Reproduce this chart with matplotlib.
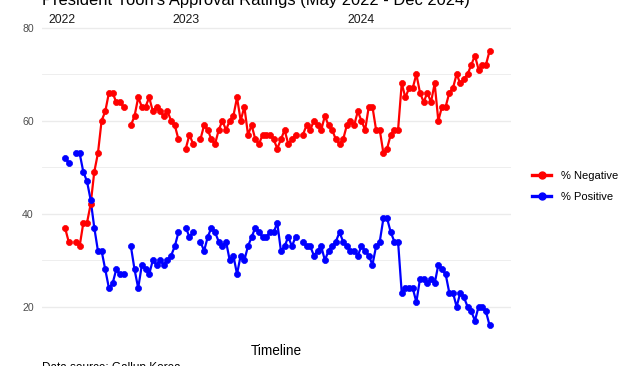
import numpy as np
import matplotlib
matplotlib.use("Agg")
import matplotlib.pyplot as plt
from matplotlib.lines import Line2D

nan = np.nan

# --- Data (weekly poll index, NaN = no poll that week) ---
negative = [37, 34, nan, 34, 33, 38, 38, 42, 49, 53, 60, 62, 66, 66, 64, 64, 63, nan,
            59, 61, 65, 63, 63, 65, 62, 63, 62,
            61, 62, 60, 59, 56, nan, 54, 57, 55, nan, 56, 59, 58, 56, 55, 58, 60, 58,
            60, 61, 65, 60, 63, 57, 59, 56, 55, 57,
            57, 57, 56, 54, 56, 58, 55, 56, 57, nan, 57, 59, 58, 60, 59, 58, 61, 59,
            58, 56, 55, 56, 59, 60, 59, 62, 60, 58,
            63, 63, 58, 58, 53, 54, 57, 58, 58, 68, 65, 67, 67, 70, 66, 64, 66, 64,
            68, 60, 63, 63, 66, 67, 70, 68, 69,
            70, 72, 74, 71, 72, 72, 75]
positive = [52, 51, nan, 53, 53, 49, 47, 43, 37, 32, 32, 28, 24, 25, 28, 27, 27, nan,
            33, 28, 24, 29, 28, 27, 30, 29, 30,
            29, 30, 31, 33, 36, nan, 37, 35, 36, nan, 34, 32, 35, 37, 36, 34, 33, 34,
            30, 31, 27, 31, 30, 33, 35, 37, 36, 35,
            35, 36, 36, 38, 32, 33, 35, 33, 35, nan, 34, 33, 33, 31, 32, 33, 30, 32,
            33, 34, 36, 34, 33, 32, 32, 31, 33, 32,
            31, 29, 33, 34, 39, 39, 36, 34, 34, 23, 24, 24, 24, 21, 26, 26, 25, 26,
            25, 29, 28, 27, 23, 23, 20, 23, 22,
            20, 19, 17, 20, 20, 19, 16]
series_labels = ["% Negative", "% Positive"]
series_colors = ["#FF0000", "#0000FF"]
year_labels = ["2022", "2023", "2024"]
year_positions = [-0.7, 33.1, 81.0]
y_ticks = [20, 40, 60, 80]
y_minor = [30, 50, 70]

title = "President Yoon's Approval Ratings (May 2022 - Dec 2024)"
xlabel = "Timeline"
caption = "Data source: Gallup Korea"

plt.rcParams['font.family'] = ['Liberation Sans', 'DejaVu Sans']

W, H = 630, 366
fig = plt.figure(figsize=(W / 100, H / 100), dpi=100)
fig.patch.set_facecolor("white")

# axes placed in pixel coordinates
left_px, right_px, top_px, bot_px = 42, 511, 10, 330
ax = fig.add_axes([left_px / W, 1 - bot_px / H, (right_px - left_px) / W, (bot_px - top_px) / H])

x = np.arange(len(negative))
neg = np.array(negative, dtype=float)
pos = np.array(positive, dtype=float)

px_per_unit = (306.7 - 27.7) / 60.0
y_top = 80 + (27.7 - top_px) / px_per_unit
y_bot = 80 - (bot_px - 27.7) / px_per_unit
px_per_slot = 3.66
x_left = (left_px - 65) / px_per_slot
x_right = (right_px - 65) / px_per_slot
ax.set_xlim(x_left, x_right)
ax.set_ylim(y_bot, y_top)

for v in y_ticks:
    ax.axhline(v, color="#EBEBEB", lw=1.0, zorder=0)
for v in y_minor:
    ax.axhline(v, color="#EBEBEB", lw=0.6, zorder=0)

lw = 1.6
ms = 4.4
for vals, c in zip([neg, pos], series_colors):
    ax.plot(x, vals, color=c, lw=lw, zorder=2, solid_capstyle="butt")
for vals, c in zip([neg, pos], series_colors):
    ax.plot(x, vals, linestyle="none", marker="o", ms=ms, color=c, mec=c, mew=0.5, zorder=3)

ax.set_yticks(y_ticks)
ax.set_yticklabels([str(v) for v in y_ticks])
ax.tick_params(axis="y", length=0, pad=6, labelsize=7.6, labelcolor="#4D4D4D")
ax.set_xticks([])
for s in ax.spines.values():
    s.set_visible(False)

year_y = 80 + (27.7 - 20.0) / px_per_unit
for lab, xp in zip(year_labels, year_positions):
    ax.text(xp, year_y, lab, ha="center", va="center", fontsize=8.8, color="#1A1A1A")

fig.text(left_px / W, 1 - 4.5 / H, title, ha="left", va="baseline", fontsize=11.9, color="black")
fig.text(276 / W, 1 - 351 / H, xlabel, ha="center", va="center", fontsize=9.8, color="black")
fig.text(left_px / W, 1 - 362 / H, caption, ha="left", va="top", fontsize=8.5, color="black")

handles = [Line2D([0], [0], color=c, lw=lw * 1.5, marker="o", ms=ms + 0.6) for c in series_colors]
leg = fig.legend(handles, series_labels, loc="center left",
                 bbox_to_anchor=(532 / W, 1 - 186.7 / H), frameon=False,
                 fontsize=8, handlelength=1.75, handletextpad=0.85, labelspacing=1.0,
                 borderaxespad=0, borderpad=0)
for t in leg.get_texts():
    t.set_color("black")

fig.savefig("out.png", dpi=100, facecolor="white")
